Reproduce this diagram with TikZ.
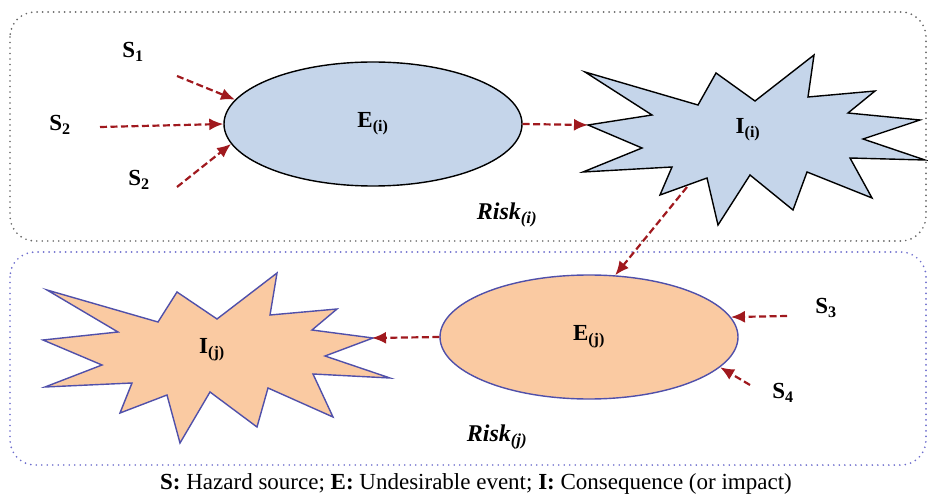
\documentclass[tikz,border=0pt]{standalone}
\usepackage{fontspec}
\setmainfont{Liberation Serif}
\usepackage{tikz}
\usetikzlibrary{shapes.geometric,arrows.meta,positioning}
\definecolor{eventblue}{RGB}{197,213,234}
\definecolor{eventpeach}{RGB}{250,202,162}
\definecolor{edgeblue}{RGB}{80,80,170}
\definecolor{riskred}{RGB}{160,25,30}
\definecolor{framegray}{RGB}{105,105,105}
\definecolor{framelilac}{RGB}{110,110,205}
\tikzstyle{event} = [ellipse, minimum width=298pt, minimum height=124pt, inner sep=0pt,
                     line width=1.4pt, font=\fontsize{23}{26}\selectfont\bfseries]
\tikzstyle{label} = [inner sep=1pt, font=\fontsize{23}{26}\selectfont\bfseries]
\tikzstyle{risk} = [inner sep=1pt, font=\fontsize{24}{27}\selectfont\bfseries\itshape]
\tikzstyle{star} = [line width=1.4pt, line join=miter]
\tikzstyle{riskarrow} = [line width=2.2pt, dash pattern=on 7pt off 3.5pt,
                         -{Latex[length=14pt,width=12pt]}, color=riskred]
\tikzstyle{frame} = [line width=1.9pt, dash pattern=on 0pt off 5.5pt, line cap=round,
                     rounded corners=25pt]

\begin{document}
\begin{tikzpicture}[x=1pt, y=-1pt]
    \useasboundingbox (0,0) rectangle (928,502);

    % risk frames
    \draw[frame, framegray] (10,12) rectangle (926,241);
    \draw[frame, framelilac] (10,252) rectangle (926,465);

    % Risk(i): sources, event, impact
    \node[event, draw=black, fill=eventblue] (ei) at (373,124) {E\textsubscript{(i)}};
    \draw[star, draw=black, fill=eventblue] (585,72) -- (698,105) -- (716,73) -- (755,101)
        -- (814,55) -- (808,97) -- (875,91) -- (848,113) -- (920,120) -- (863,139)
        -- (925,160) -- (850,158) -- (872,198) -- (807,172) -- (793,210) -- (750,175)
        -- (718,225) -- (707,178) -- (660,195) -- (672,167) -- (583,172) -- (642,148)
        -- (588,125) -- (652,115) -- cycle;
    \node[label] (ii) at (748,130) {I\textsubscript{(i)}};
    \coordinate (iitip) at (588,125);
    \coordinate (iibase) at (687,187);

    \node[label] (s1) at (133,52) {S\textsubscript{1}};
    \node[label] (s2) at (60,125) {S\textsubscript{2}};
    \node[label] (s2b) at (139,180) {S\textsubscript{2}};
    \coordinate (s1end) at (177,76);
    \coordinate (s2end) at (100,127);
    \coordinate (s2bend) at (177,187);
    \node[risk] (riski) at (507,215) {Risk\textsubscript{(i)}};

    % Risk(j): event and impact
    \node[event, draw=edgeblue, fill=eventpeach] (ej) at (589,337) {E\textsubscript{(j)}};
    \draw[star, draw=edgeblue, fill=eventpeach] (47,290) -- (158,322) -- (177,292) -- (217,319)
        -- (277,273) -- (270,315) -- (337,309) -- (312,330) -- (373,338) -- (325,356)
        -- (390,378) -- (313,374) -- (333,417) -- (268,388) -- (257,427) -- (210,392)
        -- (180,443) -- (167,395) -- (120,413) -- (132,383) -- (45,387) -- (102,365)
        -- (43,340) -- (118,332) -- cycle;
    \node[label] (ij) at (212,350) {I\textsubscript{(j)}};
    \coordinate (ijtip) at (372,338);

    \node[label] (s3) at (826,308) {S\textsubscript{3}};
    \node[label] (s4) at (783,393) {S\textsubscript{4}};
    \coordinate (s3end) at (787,316);
    \coordinate (s4end) at (750,385);
    \node[risk] (riskj) at (497,437) {Risk\textsubscript{(j)}};

    % Arrows
    \draw[riskarrow] (s1end) -- (ei.170);
    \draw[riskarrow] (s2end) -- (ei.180);
    \draw[riskarrow] (s2bend) -- (ei.188);
    \draw[riskarrow] (ei.east) -- (iitip);
    \draw[riskarrow] (iibase) -- (ej.67);
    \draw[riskarrow] (s3end) -- (ej.8);
    \draw[riskarrow] (s4end) -- (ej.-13);
    \draw[riskarrow] (ej.west) -- (ijtip);

    % legend
    \node[font=\fontsize{23}{26}\selectfont] (legend) at (476,484)
        {\textbf{S:} Hazard source; \textbf{E:} Undesirable event; \textbf{I:} Consequence (or impact)};
\end{tikzpicture}
\end{document}
